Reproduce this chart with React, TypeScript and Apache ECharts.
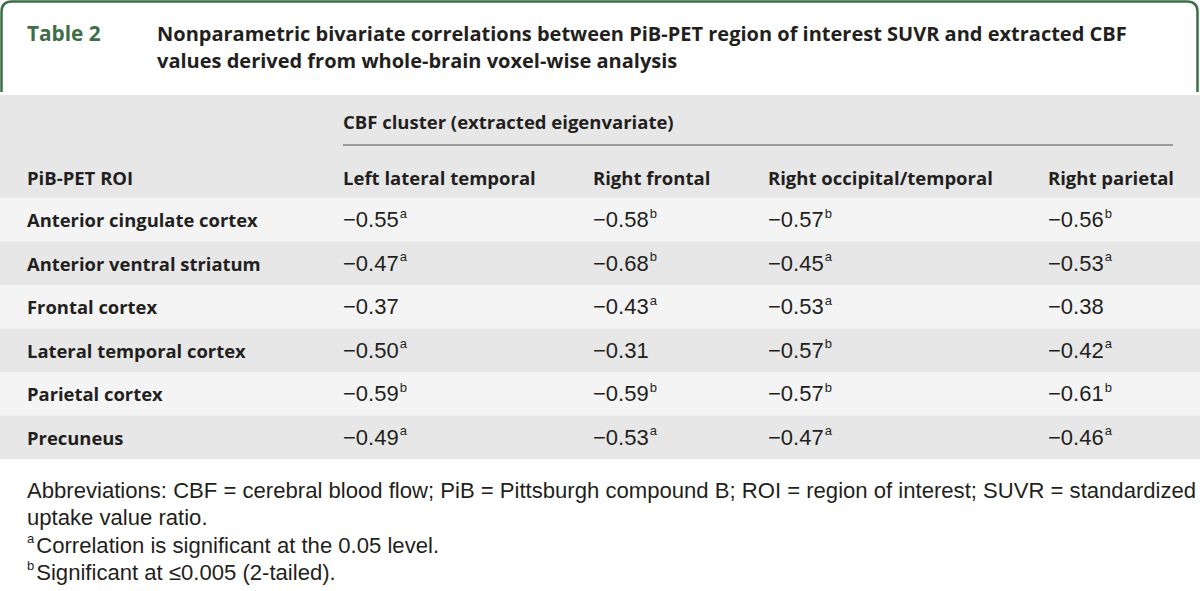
import React, { useEffect, useRef } from "react";
import * as echarts from "echarts";

const tableLabel = "Table 2";
const titleLines = [
  "Nonparametric bivariate correlations between PiB-PET region of interest SUVR and extracted CBF",
  "values derived from whole-brain voxel-wise analysis",
];
const spannerLabel = "CBF cluster (extracted eigenvariate)";
const columnHeaders = ["PiB-PET ROI", "Left lateral temporal", "Right frontal", "Right occipital/temporal", "Right parietal"];
const rois = [
  "Anterior cingulate cortex",
  "Anterior ventral striatum",
  "Frontal cortex",
  "Lateral temporal cortex",
  "Parietal cortex",
  "Precuneus",
];
const leftLateralTemporal = [-0.55, -0.47, -0.37, -0.5, -0.59, -0.49];
const leftLateralTemporalSig = ["a", "a", "", "a", "b", "a"];
const rightFrontal = [-0.58, -0.68, -0.43, -0.31, -0.59, -0.53];
const rightFrontalSig = ["b", "b", "a", "", "b", "a"];
const rightOccipitalTemporal = [-0.57, -0.45, -0.53, -0.57, -0.57, -0.47];
const rightOccipitalTemporalSig = ["b", "a", "a", "b", "b", "a"];
const rightParietal = [-0.56, -0.53, -0.38, -0.42, -0.61, -0.46];
const rightParietalSig = ["b", "a", "", "a", "b", "a"];
const footnoteLines = [
  "Abbreviations: CBF = cerebral blood flow; PiB = Pittsburgh compound B; ROI = region of interest; SUVR = standardized",
  "uptake value ratio.",
];
const footnoteMarks = [
  ["a", "Correlation is significant at the 0.05 level."],
  ["b", "Significant at \u22640.005 (2-tailed)."],
];

// layout (styles, not data)
const COL_X = [27, 343, 593, 768, 1048];
const HEAD_FONT = "Open Sans";
const NUM_FONT = "Liberation Sans";
const TEXT = "#231f20";
const GREEN = "#3d6e48";

const fmt = (v: number) => "\u2212" + Math.abs(v).toFixed(2);

export default function App() {
  const ref = useRef<HTMLDivElement>(null);
  useEffect(() => {
    document.body.style.margin = "0";
    const chart = echarts.init(ref.current!, null, { renderer: "svg" });
    echarts.graphic.registerShape(
      "titleFrame",
      echarts.graphic.extendPath("M1.5,92 L1.5,12 Q1.5,1.5 12,1.5 L1187,1.5 Q1197.5,1.5 1197.5,12 L1197.5,92", {})
    );

    const valueCols = [
      [leftLateralTemporal, leftLateralTemporalSig],
      [rightFrontal, rightFrontalSig],
      [rightOccipitalTemporal, rightOccipitalTemporalSig],
      [rightParietal, rightParietalSig],
    ] as [number[], string[]][];

    const cells: any[] = [];
    rois.forEach((r, i) => {
      cells.push([0, i, r, ""]);
    });
    valueCols.forEach(([vals, sig], c) => {
      vals.forEach((v, i) => cells.push([c + 1, i, fmt(v), sig[i]]));
    });

    const rich = {
      lab: { fontFamily: HEAD_FONT, fontWeight: "bold", fontSize: 18.4, fill: TEXT, lineHeight: 26 },
      v: { fontFamily: NUM_FONT, fontSize: 22, fill: TEXT, lineHeight: 26 },
      s: { fontFamily: NUM_FONT, fontSize: 13, fill: TEXT, lineHeight: 26, verticalAlign: "top", padding: [0, 0, 9, 1] },
    };

    const footY = [490, 517];
    const markY = [545, 572];

    const headStyle = (size: number, fill = TEXT) => ({
      fontFamily: HEAD_FONT,
      fontWeight: "bold",
      fontSize: size,
      fill,
      verticalAlign: "middle",
    });

    chart.setOption({
      animation: false,
      grid: { left: 0, right: 0, top: 198, bottom: 132 },
      xAxis: { type: "value", min: 0, max: 1200, show: false },
      yAxis: { type: "category", data: rois, inverse: true, show: false },
      graphic: [
        { type: "titleFrame", shape: {}, style: { fill: "none", stroke: GREEN, lineWidth: 2.5 } },
        { type: "text", x: 27, y: 33, style: { text: tableLabel, ...headStyle(20.8, GREEN) } },
        ...titleLines.map((t, i) => ({
          type: "text",
          x: 157,
          y: 33 + i * 27,
          style: { text: t, ...headStyle(20) },
        })),
        { type: "rect", shape: { x: 0, y: 95, width: 1200, height: 103 }, style: { fill: "#e7e7e7" } },
        { type: "text", x: COL_X[1], y: 121, style: { text: spannerLabel, ...headStyle(18.5) } },
        { type: "line", shape: { x1: COL_X[1], y1: 145, x2: 1173, y2: 145 }, style: { stroke: "#555", lineWidth: 1 } },
        ...columnHeaders.map((h, i) => ({
          type: "text",
          x: COL_X[i],
          y: 177,
          style: { text: h, ...headStyle(18.5) },
        })),
        ...footnoteLines.map((t, i) => ({
          type: "text",
          x: 27,
          y: footY[i],
          style: { text: t, fontFamily: NUM_FONT, fontSize: 22.1, fill: TEXT, verticalAlign: "middle" },
        })),
        ...footnoteMarks.map(([m, t], i) => ({
          type: "text",
          x: 27,
          y: markY[i],
          style: {
            text: `{s|${m}}{v|${t}}`,
            rich: {
              v: { fontFamily: NUM_FONT, fontSize: 22.1, fill: TEXT, lineHeight: 26 },
              s: { fontFamily: NUM_FONT, fontSize: 13, fill: TEXT, lineHeight: 26, verticalAlign: "top", padding: [0, 2, 9, 0] },
            },
            verticalAlign: "middle",
          },
        })),
      ],
      series: [
        {
          type: "custom",
          data: rois.map((_, i) => [0, i]),
          encode: { x: 0, y: 1 },
          renderItem: (params: any, api: any) => {
            const i = api.value(1);
            const c = api.coord([0, i]);
            const h = api.size([0, 1])[1];
            return {
              type: "rect",
              shape: { x: 0, y: c[1] - h / 2, width: 1200, height: h },
              style: { fill: i % 2 === 0 ? "#f4f4f4" : "#e7e7e7" },
            };
          },
        },
        {
          type: "custom",
          data: cells,
          encode: { y: 1 },
          renderItem: (params: any, api: any) => {
            const col = api.value(0);
            const row = api.value(1);
            const d = cells[params.dataIndex];
            const c = api.coord([0, row]);
            const text = col === 0 ? `{lab|${d[2]}}` : `{v|${d[2]}}` + (d[3] ? `{s|${d[3]}}` : "");
            return {
              type: "text",
              x: COL_X[col],
              y: c[1],
              style: { text, rich, verticalAlign: "middle", align: "left" },
            };
          },
        },
      ],
    });
    return () => chart.dispose();
  }, []);
  return <div ref={ref} style={{ width: 1200, height: 591 }} />;
}
